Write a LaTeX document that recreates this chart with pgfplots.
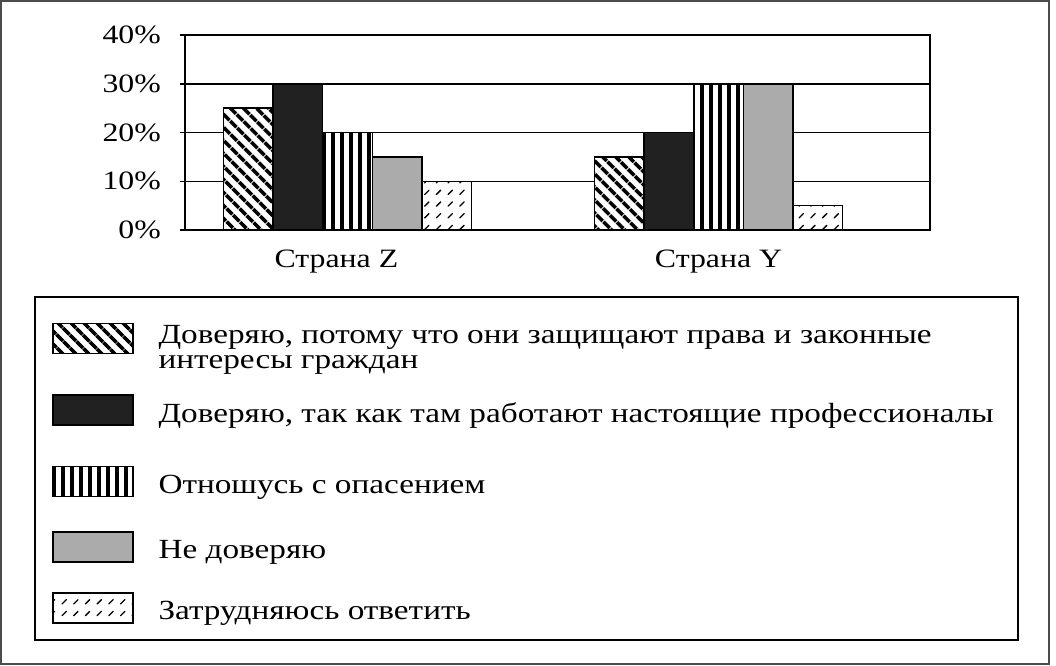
\documentclass[border=0pt]{standalone}
\usepackage{fontspec}
\setmainfont{Liberation Serif}[FakeStretch=1.2]
\usepackage{pgfplots}
\pgfplotsset{compat=1.18}
\usetikzlibrary{patterns,patterns.meta}

% small slanted dashes for the last series
\pgfdeclarepatternformonly{slashdash}{\pgfqpoint{-1bp}{-1bp}}{\pgfqpoint{12.7bp}{12.7bp}}{\pgfqpoint{11.7bp}{11.7bp}}{
  \pgfsetlinewidth{1.3bp}
  \pgfsetroundcap
  \pgfpathmoveto{\pgfqpoint{3.5bp}{3.5bp}}
  \pgfpathlineto{\pgfqpoint{7.8bp}{7.8bp}}
  \pgfusepath{stroke}
}

\newcommand\tickfont{\fontsize{26.5bp}{26bp}\selectfont}
\newcommand\legfont{\fontsize{27.7bp}{25bp}\selectfont}

% legend box; the argument is how far the row reaches below the baseline
\pgfplotsset{
  boxlegend/.style={legend image code/.code={%
      \path (0bp,-#1) (0bp,20bp);
      \draw[##1] (0bp,-10bp) rectangle (80bp,20bp);}},
  boxlegend/.default=10bp,
  barline/.style={draw=black, line width=1.5bp},
}

\begin{document}
\legfont
\begin{tikzpicture}
\useasboundingbox (0bp,0bp) rectangle (1056bp,-666bp);
\draw[line width=2bp, black!70] (1bp,-1bp) rectangle (1049bp,-664bp);

\begin{axis}[
  at={(185bp,-230bp)}, anchor=south west,
  scale only axis, width=745bp, height=195bp,
  ybar=0pt, bar width=49.6bp,
  xmin=-0.438, xmax=1.570, ymin=0, ymax=40,
  xtick={-0.03,1}, xticklabels={Страна Z, Страна Y},
  ytick={0,10,20,30,40}, yticklabels={0\%,10\%,20\%,30\%,40\%},
  ytick pos=left,
  ymajorgrids, grid style={black, line width=1.5bp},
  axis line style={black, line width=2bp},
  tick align=outside, major tick length=5bp,
  xtick style={draw=none}, ytick style={black, line width=1.5bp},
  tick label style={font=\tickfont},
  xticklabel style={inner sep=0pt, yshift=-15bp},
  yticklabel style={inner sep=0pt, xshift=-19bp},
  legend cell align=left,
  legend style={at={(axis description cs:-0.1785,-0.4753)}, anchor=north west,
    draw=none, fill=none, inner sep=0pt, outer sep=0pt, row sep=29bp,
    nodes={inner sep=0pt, font=\legfont},
    /tikz/every odd column/.append style={column sep=25bp}},
]
\addplot[barline, fill=white, boxlegend=21bp,
  postaction={pattern={Lines[angle=-45,distance=9.5bp,line width=3.8bp]}}]
  coordinates {(0,25) (1,15)};
\addlegendentry{\begin{tabular}{@{}l@{}}Доверяю, потому что они защищают права и законные\\интересы граждан\end{tabular}}

\addplot[barline, fill=white!13!black, boxlegend=21bp]
  coordinates {(0,30) (1,20)};
\addlegendentry{Доверяю, так как там работают настоящие профессионалы}

\addplot[barline, fill=white, boxlegend=15bp,
  postaction={pattern={Lines[angle=90,distance=9bp,line width=3.3bp]}}]
  coordinates {(0,20) (1,30)};
\addlegendentry{Отношусь с опасением}

\addplot[barline, fill=black!33, boxlegend]
  coordinates {(0,15) (1,30)};
\addlegendentry{Не доверяю}

\addplot[barline, fill=white, boxlegend, postaction={pattern=slashdash}]
  coordinates {(0,10) (1,5)};
\addlegendentry{Затрудняюсь ответить}
\end{axis}

\draw[line width=2bp] (35bp,-297bp) rectangle (1018bp,-640bp);
\end{tikzpicture}
\end{document}
